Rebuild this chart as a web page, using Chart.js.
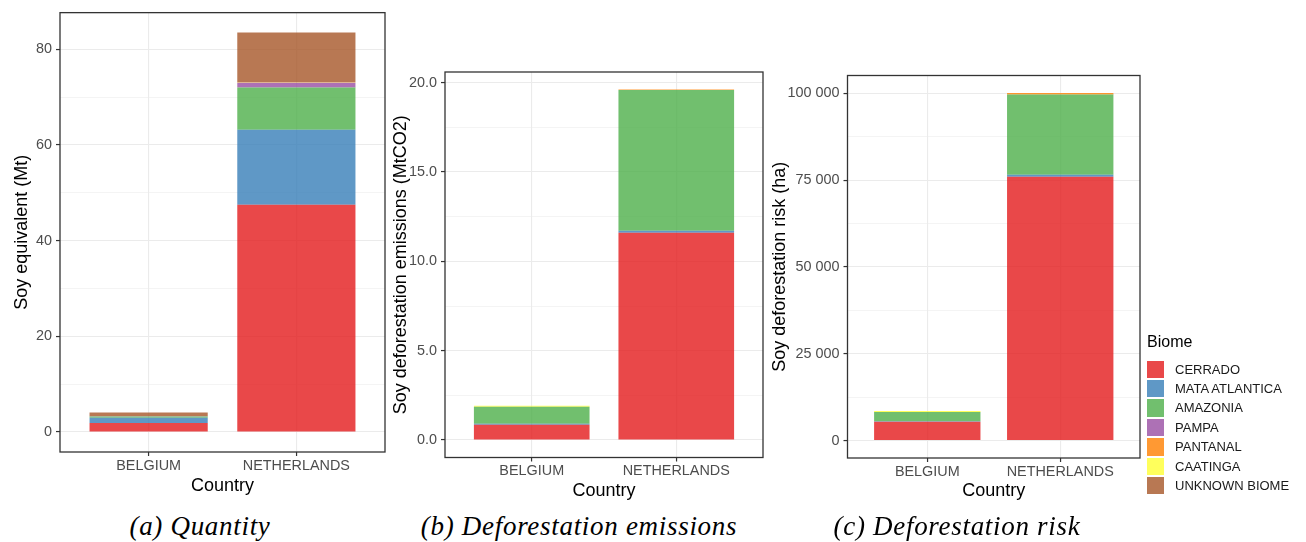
<!DOCTYPE html>
<html>
<head>
<meta charset="utf-8">
<script src="https://cdn.jsdelivr.net/npm/chart.js@4/dist/chart.umd.min.js"></script>
<style>
  body { margin: 0; background: #fff; width: 1306px; height: 542px; position: relative; overflow: hidden;
         font-family: "Liberation Sans", Arial, sans-serif; }
  canvas { position: absolute; top: 0; }
  .caption { position: absolute; top: 511px; transform: translateX(-50%); white-space: nowrap;
             font-family: "Liberation Serif", serif; font-style: italic; font-size: 27px; letter-spacing: 0.7px; color: #000; }
  #legend { position: absolute; left: 0; top: 0; }
  .ltitle { position: absolute; left: 1147px; top: 332px; font-size: 16px; line-height: 20px; color: #000; }
  .key { position: absolute; left: 1147px; width: 17.3px; height: 17.3px; }
  .klabel { position: absolute; left: 1175px; font-size: 13px; line-height: 17.3px; color: #1a1a1a; white-space: nowrap; }
</style>
</head>
<body>
<canvas id="qty" width="390" height="500" style="left:0px"></canvas>
<canvas id="emis" width="380" height="505" style="left:390px"></canvas>
<canvas id="risk" width="380" height="505" style="left:768px"></canvas>
<div id="legend"></div>
<div class="caption" style="left:200px">(a) Quantity</div>
<div class="caption" style="left:579px">(b) Deforestation emissions</div>
<div class="caption" style="left:957px">(c) Deforestation risk</div>
<script>
const countries = ["BELGIUM", "NETHERLANDS"];
const biomes = ["CERRADO", "MATA ATLANTICA", "AMAZONIA", "PAMPA", "PANTANAL", "CAATINGA", "UNKNOWN BIOME"];
const biomeColors = ["#E41A1C", "#377EB8", "#4DAF4A", "#984EA3", "#FF7F00", "#FFFF33", "#A65628"];

// values per biome, same order as biomes
const quantityBelgium = [1.9, 1.1, 0.25, 0.03, 0.01, 0.01, 0.8];       // Mt
const quantityNetherlands = [47.5, 15.7, 8.8, 1.0, 0.05, 0.05, 10.4];
const emissionsBelgium = [0.85, 0.06, 0.95, 0, 0, 0.05, 0];            // MtCO2
const emissionsNetherlands = [11.6, 0.12, 7.88, 0, 0.02, 0, 0];
const riskBelgium = [5450, 150, 2650, 0, 0, 250, 0];                   // ha
const riskNetherlands = [76000, 600, 23100, 0, 450, 0, 0];

const quantityTicks = [0, 20, 40, 60, 80];
const quantityMinor = [10, 30, 50, 70];
const emissionsTicks = [0, 5, 10, 15, 20];
const emissionsMinor = [2.5, 7.5, 12.5, 17.5];
const riskTicks = [0, 25000, 50000, 75000, 100000];
const riskMinor = [12500, 37500, 62500, 87500];

const panelBorder = {
  id: "panelBorder",
  afterDraw(chart) {
    const { ctx, chartArea: a } = chart;
    ctx.save();
    ctx.strokeStyle = "#333333";
    ctx.lineWidth = 1.3;
    ctx.strokeRect(a.left, a.top, a.right - a.left, a.bottom - a.top);
    ctx.restore();
  }
};

function makePanel(id, cfg) {
  const totals = cfg.values.map(v => v.reduce((s, x) => s + x, 0));
  const top = Math.max(...totals);
  const expand = top * 0.05; // ggplot default expansion
  const majors = cfg.ticks;
  const all = majors.concat(cfg.minor).sort((a, b) => a - b);
  const isMajor = c => c.tick && majors.includes(c.tick.value);

  return new Chart(document.getElementById(id), {
    type: "bar",
    data: {
      datasets: biomes.map((b, i) => ({
        label: b,
        data: cfg.values.map((v, j) => ({ x: j + 1, y: v[i] })),
        backgroundColor: biomeColors[i] + "CC",
        borderWidth: 0,
        barPercentage: 0.8,
        categoryPercentage: 1
      }))
    },
    options: {
      responsive: false,
      animation: false,
      layout: { padding: { left: 0, top: cfg.top, right: cfg.right, bottom: 0 } },
      plugins: { legend: { display: false }, tooltip: { enabled: false } },
      scales: {
        x: {
          type: "linear",
          stacked: true,
          offset: false,
          min: 0.4,
          max: 2.6,
          afterBuildTicks: s => { s.ticks = countries.map((c, j) => ({ value: j + 1 })); },
          afterFit: s => { s.height = cfg.xHeight; },
          border: { display: false },
          grid: { offset: false, color: "#EBEBEB", lineWidth: 1.1, tickColor: "#333333", tickLength: 4, tickWidth: 1.2 },
          ticks: {
            callback: v => countries[v - 1],
            autoSkip: false, maxRotation: 0,
            color: "#4D4D4D", padding: 1,
            font: { family: "Liberation Sans", size: 14.4 }
          },
          title: {
            display: true, text: "Country", color: "#000",
            font: { family: "Liberation Sans", size: 18 },
            padding: { top: 0, bottom: 3 }
          }
        },
        y: {
          stacked: true,
          min: -expand,
          max: top + expand,
          afterBuildTicks: s => { s.ticks = all.map(v => ({ value: v })); },
          afterFit: s => { s.width = cfg.yWidth; },
          border: { display: false },
          grid: {
            color: "#EBEBEB",
            lineWidth: c => isMajor(c) ? 1.1 : 0.55,
            tickColor: c => isMajor(c) ? "#333333" : "rgba(0,0,0,0)",
            tickLength: 4, tickWidth: 1.2
          },
          ticks: {
            callback: v => majors.includes(v) ? cfg.format(v) : "",
            autoSkip: false,
            color: "#4D4D4D", padding: 4,
            font: { family: "Liberation Sans", size: 14.4 }
          },
          title: {
            display: true, text: cfg.yTitle, color: "#000",
            font: { family: "Liberation Sans", size: 18 },
            padding: { top: cfg.yTitlePad, bottom: 0 }
          }
        }
      }
    },
    plugins: [panelBorder]
  });
}

const spaced = v => String(v).replace(/\B(?=(\d{3})+(?!\d))/g, " ");

makePanel("qty", {
  values: [quantityBelgium, quantityNetherlands],
  ticks: quantityTicks, minor: quantityMinor,
  format: v => String(v),
  yTitle: "Soy equivalent (Mt)",
  top: 12, right: 5, yWidth: 60, xHeight: 48, yTitlePad: 11
});
makePanel("emis", {
  values: [emissionsBelgium, emissionsNetherlands],
  ticks: emissionsTicks, minor: emissionsMinor,
  format: v => v.toFixed(1),
  yTitle: "Soy deforestation emissions (MtCO2)",
  top: 72, right: 7, yWidth: 55, xHeight: 47.5, yTitlePad: 0
});
makePanel("risk", {
  values: [riskBelgium, riskNetherlands],
  ticks: riskTicks, minor: riskMinor,
  format: spaced,
  yTitle: "Soy deforestation risk (ha)",
  top: 75.5, right: 8, yWidth: 79.5, xHeight: 47, yTitlePad: 1
});

// legend
const legend = document.getElementById("legend");
const t = document.createElement("div");
t.className = "ltitle";
t.textContent = "Biome";
legend.appendChild(t);
biomes.forEach((b, i) => {
  const y = 360.5 + i * 19.45;
  const k = document.createElement("div");
  k.className = "key";
  k.style.top = y + "px";
  k.style.background = biomeColors[i] + "CC";
  legend.appendChild(k);
  const l = document.createElement("div");
  l.className = "klabel";
  l.style.top = y + "px";
  l.textContent = b;
  legend.appendChild(l);
});
</script>
</body>
</html>
